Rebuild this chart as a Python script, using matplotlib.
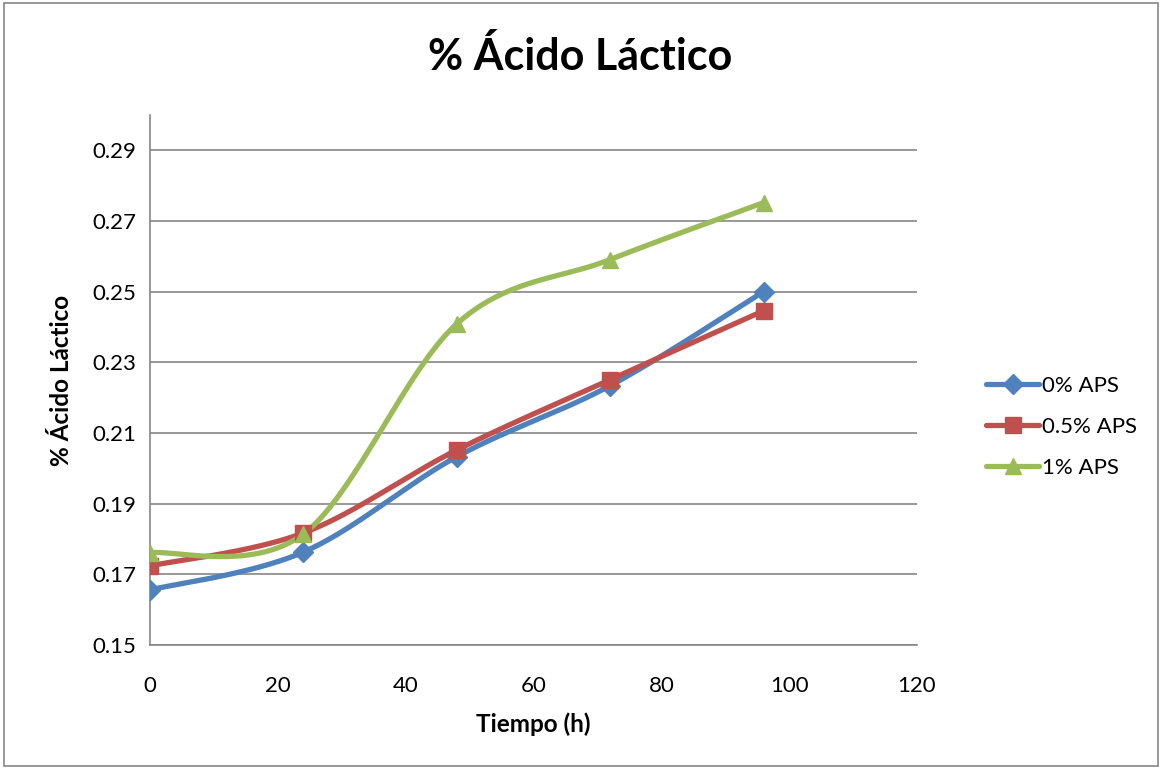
import matplotlib
matplotlib.use("Agg")
import matplotlib.pyplot as plt
import numpy as np
from matplotlib.lines import Line2D
from matplotlib.patches import Rectangle

# ------------------------------------------------
# data
# ------------------------------------------------
tiempo = [0, 24, 48, 72, 96]
aps_0 = [0.1656, 0.1763, 0.2033, 0.2234, 0.2500]
aps_05 = [0.1724, 0.1817, 0.2052, 0.2251, 0.2446]
aps_1 = [0.1761, 0.1814, 0.2409, 0.2591, 0.2752]
series_names = ['0% APS', '0.5% APS', '1% APS']

colors = ['#4F81BD', '#C0504D', '#9BBB59']
markers = ['D', 's', '^']
msizes = [10, 12, 12]

plt.rcParams['font.family'] = ['Lato', 'DejaVu Sans']

xmin, xmax = 0, 120
ymin, ymax = 0.15, 0.30
ax_l, ax_r, ax_t, ax_b = 150 / 1161, 917 / 1161, 115 / 768, 645 / 768
W_px = 917 - 150
H_px = 645 - 115


def smooth(xs, ys, n=40):
    # excel-like smoothed line: bezier through points, computed in pixel space
    px = (np.array(xs) - xmin) / (xmax - xmin) * W_px
    py = (np.array(ys) - ymin) / (ymax - ymin) * H_px
    P = np.column_stack([px, py])
    P = np.vstack([P[0], P, P[-1]])
    out = []
    for i in range(1, len(P) - 2):
        p0, p1, p2, p3 = P[i - 1], P[i], P[i + 1], P[i + 2]
        c1 = p1 + (p2 - p0) / 6
        c2 = p2 - (p3 - p1) / 6
        t = np.linspace(0, 1, n)[:, None]
        seg = ((1 - t) ** 3) * p1 + 3 * ((1 - t) ** 2) * t * c1 + 3 * (1 - t) * t ** 2 * c2 + t ** 3 * p2
        out.append(seg)
    out = np.vstack(out)
    return out[:, 0] / W_px * (xmax - xmin) + xmin, out[:, 1] / H_px * (ymax - ymin) + ymin


fig = plt.figure(figsize=(11.61, 7.68), dpi=100)
fig.patches.append(Rectangle((4 / 1161, 2 / 768), 1154 / 1161, 763 / 768, transform=fig.transFigure,
                             fill=False, edgecolor='#868686', linewidth=1.2))
ax = fig.add_axes([ax_l, 1 - ax_b, ax_r - ax_l, ax_b - ax_t])

handles = []
for ys, c, m, ms, name in zip([aps_0, aps_05, aps_1], colors, markers, msizes, series_names):
    sx, sy = smooth(tiempo, ys)
    ax.plot(sx, sy, color=c, linewidth=3.8, solid_capstyle='round', zorder=3)
    ax.plot(tiempo, ys, linestyle='none', marker=m, markersize=ms, color=c, zorder=4)
    handles.append(Line2D([0], [0], color=c, linewidth=3.8, marker=m, markersize=ms,
                          solid_capstyle='round', label=name))

ax.set_xlim(xmin, xmax)
ax.set_ylim(ymin, ymax)
ax.set_xticks(np.arange(0, 121, 20))
ax.set_yticks(np.arange(0.15, 0.291, 0.02))
ax.set_yticklabels(['%.2f' % v for v in np.arange(0.15, 0.291, 0.02)])
ax.grid(axis='y', color='#868686', linewidth=1.2)
ax.set_axisbelow(True)
for s in ['top', 'right']:
    ax.spines[s].set_visible(False)
for s in ['left', 'bottom']:
    ax.spines[s].set_color('#868686')
    ax.spines[s].set_linewidth(1.2)
ax.tick_params(axis='both', length=0, labelsize=16, pad=10)
ax.tick_params(axis='x', pad=22)

ax.set_xlabel('Tiempo (h)', fontsize=17.5, fontweight='bold', labelpad=12)
ax.set_ylabel('% Ácido Láctico', fontsize=17.5, fontweight='bold', labelpad=14)
fig.text(0.5, 1 - 56 / 768, '% Ácido Láctico', ha='center', va='center', fontsize=31, fontweight='bold')

fig.legend(handles=handles, loc='center left', bbox_to_anchor=(966 / 1161, 1 - 427 / 768),
           frameon=False, fontsize=16, handlelength=2.4, handletextpad=0.1, labelspacing=0.95)

fig.savefig('out.png', dpi=100)
